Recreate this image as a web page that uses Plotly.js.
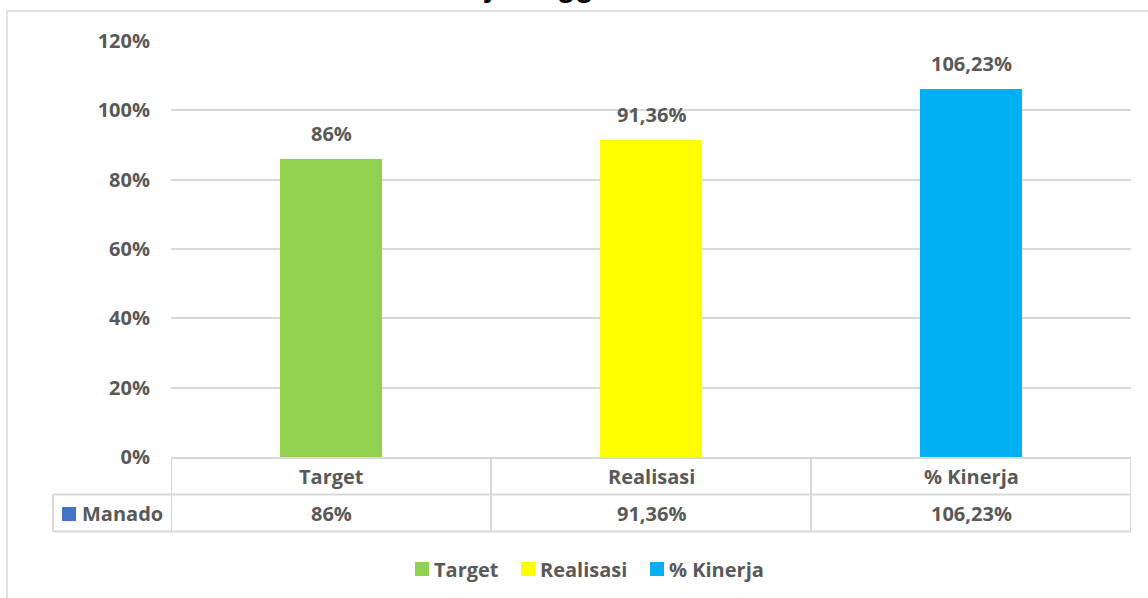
<!DOCTYPE html>
<html>
<head>
<meta charset="utf-8">
<script src="https://cdn.plot.ly/plotly-3.0.1.min.js"></script>
<style>
  html, body { margin: 0; padding: 0; background: #ffffff; }
  #chart { width: 1148px; height: 598px; }
</style>
</head>
<body>
<div id="chart"></div>
<script>
// ---- data ----
const titleText = "Kinerja Anggaran";
const seriesName = "Manado";
const categories = ["Target", "Realisasi", "% Kinerja"];
const values = [86, 91.36, 106.23];
const valueLabels = ["86%", "91,36%", "106,23%"];
const barColors = ["#92D050", "#FFFF00", "#00B0F0"];
const seriesColor = "#4472C4";
const yTicks = [0, 20, 40, 60, 80, 100, 120];
const yTickText = ["0%", "20%", "40%", "60%", "80%", "100%", "120%"];

// ---- layout helpers (pixel -> paper) ----
const W = 1148, H = 598;
const M = { l: 171, r: 17, t: 41, b: 141 };
const PW = W - M.l - M.r, PH = H - M.t - M.b;
const px = x => (x - M.l) / PW;
const py = y => (H - M.b - y) / PH;

const FONT = "'Open Sans', Lato, sans-serif";
const FS = 20;
const TXT = "#595959";
const GRID = "#D9D9D9";

const trace = {
  type: "bar",
  name: seriesName,
  x: categories,
  y: values,
  width: 0.316,
  marker: { color: barColors, line: { width: 0 } },
  hoverinfo: "skip",
  showlegend: false
};

const shapes = [];
const annotations = [];
const tfont = { family: FONT, size: FS, color: TXT, weight: 700 };

// outer chart frame
shapes.push({ type: "rect", xref: "paper", yref: "paper",
  x0: px(7), x1: px(1170), y0: py(11), y1: py(640),
  line: { color: GRID, width: 1.5 }, layer: "below" });

// data table lines
const nCat = categories.length;
const rowTop = py(458), rowMid = py(494.5), rowBot = py(531.5);
shapes.push({ type: "line", xref: "x", yref: "paper", x0: -0.5, x1: nCat - 0.5, y0: rowTop, y1: rowTop, line: { color: GRID, width: 2 } });
shapes.push({ type: "line", xref: "paper", yref: "paper", x0: px(53), x1: 1, y0: rowMid, y1: rowMid, line: { color: GRID, width: 2 } });
shapes.push({ type: "line", xref: "paper", yref: "paper", x0: px(53), x1: 1, y0: rowBot, y1: rowBot, line: { color: GRID, width: 2 } });
shapes.push({ type: "line", xref: "paper", yref: "paper", x0: px(53), x1: px(53), y0: rowMid, y1: rowBot, line: { color: GRID, width: 2 } });
for (let i = 0; i <= nCat; i++) {
  shapes.push({ type: "line", xref: "x", yref: "paper", x0: i - 0.5, x1: i - 0.5, y0: rowTop, y1: rowBot, line: { color: GRID, width: 2 } });
}

// table text and data labels
categories.forEach((c, i) => {
  annotations.push({ xref: "x", yref: "paper", x: c, y: py(476), text: c, showarrow: false,
    xanchor: "center", yanchor: "middle", font: tfont });
  annotations.push({ xref: "x", yref: "paper", x: c, y: py(513.5), text: valueLabels[i], showarrow: false,
    xanchor: "center", yanchor: "middle", font: tfont });
  annotations.push({ xref: "x", yref: "y", x: c, y: values[i], text: valueLabels[i], showarrow: false,
    xanchor: "center", yanchor: "bottom", yshift: 10, font: tfont });
});

// series key in table
shapes.push({ type: "rect", xref: "paper", yref: "paper", x0: px(62), x1: px(76), y0: py(507), y1: py(521),
  fillcolor: seriesColor, line: { width: 0 } });
annotations.push({ xref: "paper", yref: "paper", x: px(80), y: py(513.5), text: seriesName, showarrow: false,
  xanchor: "left", yanchor: "middle", font: tfont });

// legend
const legendX = [415, 521, 650];
categories.forEach((c, i) => {
  const x0 = legendX[i];
  shapes.push({ type: "rect", xref: "paper", yref: "paper", x0: px(x0), x1: px(x0 + 14), y0: py(562), y1: py(576),
    fillcolor: barColors[i], line: { width: 0 } });
  annotations.push({ xref: "paper", yref: "paper", x: px(x0 + 17), y: py(569), text: c, showarrow: false,
    xanchor: "left", yanchor: "middle", font: tfont });
});

// title (mostly cut off at top edge, as in reference)
annotations.push({ xref: "paper", yref: "paper", x: px(406), y: py(5), text: titleText, showarrow: false,
  xanchor: "left", yanchor: "bottom", font: { family: "'Liberation Sans', Arial, sans-serif", size: 30, color: "#000000", weight: 700 } });

const layout = {
  width: W, height: H,
  margin: M,
  paper_bgcolor: "#ffffff",
  plot_bgcolor: "#ffffff",
  showlegend: false,
  bargap: 0,
  xaxis: { type: "category", range: [-0.5, nCat - 0.5], showticklabels: false, showgrid: false,
    zeroline: false, showline: false, ticks: "", fixedrange: true },
  yaxis: { range: [0, 120], tickvals: yTicks, ticktext: yTickText, showgrid: true, gridcolor: GRID, gridwidth: 2,
    zeroline: false, showline: false, ticks: "", ticklabelstandoff: 20,
    tickfont: tfont, fixedrange: true },
  shapes: shapes,
  annotations: annotations,
  font: { family: FONT, color: TXT }
};

Plotly.newPlot("chart", [trace], layout, { displayModeBar: false, staticPlot: true });
</script>
</body>
</html>
